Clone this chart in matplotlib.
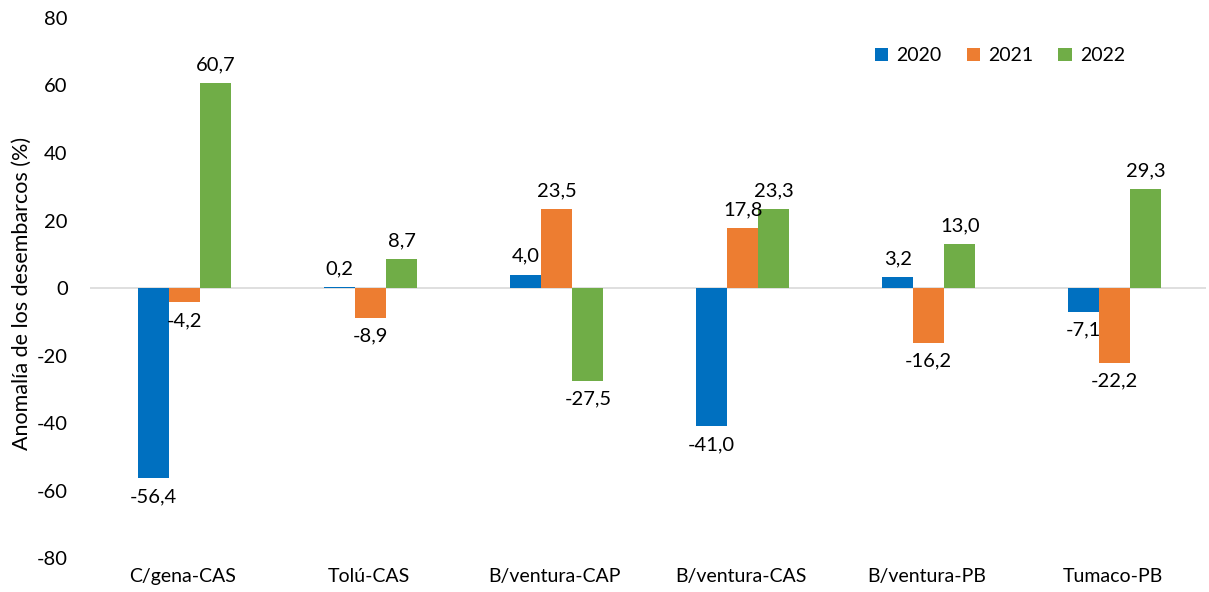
import matplotlib

matplotlib.use("Agg")
import matplotlib.pyplot as plt
import numpy as np

plt.rcParams["font.family"] = ["Lato", "DejaVu Sans"]
plt.rcParams["axes.unicode_minus"] = False

categories = ["C/gena-CAS", "Tolú-CAS", "B/ventura-CAP", "B/ventura-CAS", "B/ventura-PB", "Tumaco-PB"]
years = ["2020", "2021", "2022"]
values_2020 = [-56.4, 0.2, 4.0, -41.0, 3.2, -7.1]
values_2021 = [-4.2, -8.9, 23.5, 17.8, -16.2, -22.2]
values_2022 = [60.7, 8.7, -27.5, 23.3, 13.0, 29.3]
colors = ["#0070C0", "#ED7D31", "#70AD47"]

fig = plt.figure(figsize=(12.09, 5.92), dpi=100)
ax = fig.add_axes([0.0744, 0.0574, 0.923, 0.9122])

x = np.arange(len(categories))
width = 0.167
for i, (year, vals, color) in enumerate(zip(years, [values_2020, values_2021, values_2022], colors)):
    bars = ax.bar(x + (i - 1) * width + 0.01, vals, width, color=color, label=year, zorder=2)
    ax.bar_label(bars, labels=[f"{v:.1f}".replace(".", ",") for v in vals],
                 padding=7, fontsize=14.5, color="#000000")

ax.axhline(0, color="#D9D9D9", linewidth=1.2, zorder=1)
ax.set_xlim(-0.5, len(categories) - 0.5)
ax.set_ylim(-80, 80)
ax.set_yticks(np.arange(-80, 81, 20))
ax.set_xticks(x)
ax.set_xticklabels(categories, fontsize=14)
ax.tick_params(axis="y", labelsize=14.5, length=0, pad=16)
ax.tick_params(axis="x", length=0, pad=7)
for s in ax.spines.values():
    s.set_visible(False)
ax.set_ylabel("Anomalía de los desembarcos (%)", fontsize=15.5)
ax.yaxis.set_label_coords(-0.052, 0.49)

ax.legend(loc="center", bbox_to_anchor=(0.827, 0.906), bbox_transform=fig.transFigure,
          ncol=3, frameon=False, fontsize=14, handlelength=0.7, handleheight=0.7,
          handletextpad=0.4, columnspacing=1.3)

fig.savefig("out.png", dpi=100)
